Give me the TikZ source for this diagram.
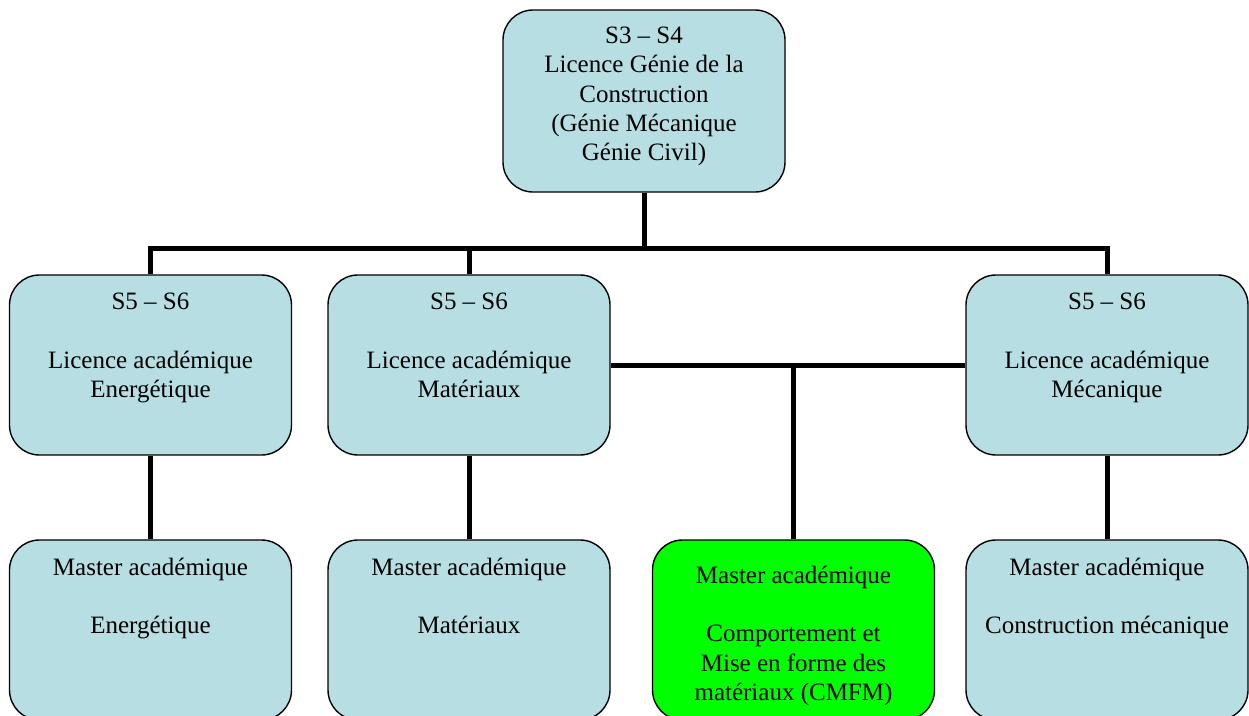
\documentclass[tikz,border=0pt]{standalone}
\usepackage{fontspec}
\setmainfont{Liberation Serif}
\usepackage{xcolor}
\usepackage{tikz}
\usetikzlibrary{positioning,calc}

\definecolor{boxblue}{HTML}{B7DEE2}
\definecolor{cmfmgreen}{HTML}{00FF00}
% text block set at the top of a rounded box
\newcommand{\boxtext}[3]{\parbox[c][#1][t]{282pt}{\centering\vspace*{#2}#3}}

\begin{document}
\begin{tikzpicture}[x=1pt, y=-1pt, font=\fontsize{25}{29.3}\selectfont,
    prog/.style={draw, line width=1.4pt, rounded corners=30pt, fill=boxblue, inner sep=0pt},
    link/.style={line width=5pt}]
  \useasboundingbox (0,0) rectangle (1249,715);
  \clip (0,0) rectangle (1249,715);

  % S3 - S4
  \node[prog] (tronc) at (644, 101) {\boxtext{182pt}{17pt}{S3 – S4\\Licence Génie de la\\Construction\\(Génie Mécanique\\Génie Civil)}};

  % S5 - S6 licences
  \node[prog] (licE) at (150.5, 365) {\boxtext{180pt}{18pt}{S5 – S6\\[\baselineskip]Licence académique\\Energétique}};
  \node[prog] (licM) at (469, 365) {\boxtext{180pt}{18pt}{S5 – S6\\[\baselineskip]Licence académique\\Matériaux}};
  \node[prog] (licC) at (1107, 365) {\boxtext{180pt}{18pt}{S5 – S6\\[\baselineskip]Licence académique\\Mécanique}};

  % Masters
  \node[prog] (masE) at (150.5, 630) {\boxtext{180pt}{18pt}{Master académique\\[\baselineskip]Energétique}};
  \node[prog] (masM) at (469, 630) {\boxtext{180pt}{18pt}{Master académique\\[\baselineskip]Matériaux}};
  \node[prog, fill=cmfmgreen] (masF) at (793.5, 630) {\boxtext{180pt}{26pt}{Master académique\\[\baselineskip]Comportement et\\Mise en forme des\\matériaux (CMFM)}};
  \node[prog] (masC) at (1107, 630) {\boxtext{180pt}{18pt}{Master académique\\[\baselineskip]Construction mécanique}};

  % tree
  \coordinate (bus) at (644, 248);
  \draw[link] (tronc.south) -- (bus);
  \draw[link] (licE.north) |- (bus) -| (licC.north);
  \draw[link] (licM.north) -- (licM.north |- bus);
  \draw[link] (licE.south) -- (masE.north);
  \draw[link] (licM.south) -- (masM.north);
  \draw[link] (licC.south) -- (masC.north);
  \draw[link] (licM.east) -- (licC.west);
  \draw[link] (masF.north) -- (masF.north |- licM.east);
\end{tikzpicture}
\end{document}
